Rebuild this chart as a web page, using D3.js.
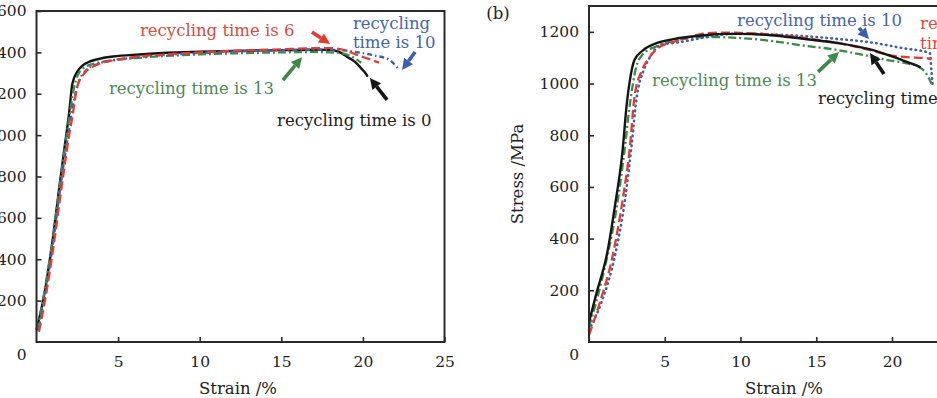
<!DOCTYPE html>
<html>
<head>
<meta charset="utf-8">
<script src="https://cdn.jsdelivr.net/npm/d3@7/dist/d3.min.js"></script>
<style>
  body { margin: 0; background: #fff; }
  svg { display: block; }
  text { font-family: "DejaVu Serif", serif; }
</style>
</head>
<body>
<svg id="chart" width="937" height="398"></svg>
<script>
// recycling times compared in both panels
const recycleTimes = [0, 6, 10, 13];

// panel (a): strain (%) and stress (MPa)
const aStrain0 = [0, 0.5, 1.0, 1.4, 1.7, 2.0, 2.2, 2.5, 2.8, 3.1, 3.8, 4.7, 6.3, 8, 10, 12, 15, 17, 18, 18.6, 19.0, 19.5, 19.8, 20.1, 20.3];
const aStress0 = [58, 240, 500, 750, 930, 1108, 1250, 1307, 1335, 1350, 1368, 1380, 1390, 1398, 1403, 1407, 1411, 1413, 1412, 1400, 1380, 1355, 1331, 1305, 1283];
const aStrain6 = [0.15, 0.6, 1.0, 1.6, 2.0, 2.2, 2.5, 2.95, 3.7, 4.7, 6, 8, 10, 12, 15, 17, 18, 19, 19.6, 20.3, 21.0];
const aStress6 = [50, 237, 440, 784, 1000, 1090, 1235, 1300, 1340, 1362, 1378, 1390, 1400, 1407, 1415, 1420, 1421, 1408, 1389, 1370, 1350];
const aStrain10 = [0.1, 0.6, 1.0, 1.5, 2.0, 2.3, 2.6, 3.0, 3.8, 5, 6, 8, 10, 12, 15, 17, 18, 19, 19.8, 20.7, 21.6, 22.2];
const aStress10 = [55, 260, 470, 770, 1030, 1170, 1260, 1310, 1345, 1365, 1375, 1388, 1397, 1404, 1410, 1413, 1413, 1408, 1399, 1385, 1365, 1317];
const aStrain13 = [0.05, 0.5, 1.0, 1.5, 2.0, 2.3, 2.6, 3.0, 3.5, 4.5, 6, 8, 10, 12, 15, 17, 18.5, 19.3, 19.9];
const aStress13 = [55, 250, 500, 800, 1080, 1230, 1300, 1330, 1345, 1360, 1372, 1383, 1390, 1395, 1400, 1402, 1398, 1380, 1350];

// panel (b)
const bStrain0 = [0, 0.5, 1.2, 1.7, 2.2, 2.5, 2.7, 3.0, 3.6, 4.5, 6.0, 7.8, 9, 10, 12, 14, 16.4, 18.5, 20, 20.7, 21.4, 21.9];
const bStress0 = [77, 190, 344, 522, 731, 925, 1013, 1091, 1130, 1157, 1176, 1188, 1192, 1192, 1187, 1174, 1157, 1133, 1105, 1090, 1075, 1062];
const bStrain6 = [0, 0.7, 1.6, 2.25, 2.7, 3.0, 3.5, 4.0, 4.55, 6.0, 7.3, 8.5, 10, 12, 15, 17, 18.5, 20, 21, 22.3, 22.6];
const bStress6 = [27, 150, 344, 561, 754, 948, 1052, 1102, 1137, 1168, 1190, 1197, 1196, 1190, 1170, 1150, 1130, 1108, 1102, 1098, 1093];
const bStrain10 = [0, 0.8, 1.75, 2.4, 2.8, 3.15, 3.6, 4.0, 4.7, 6, 7.5, 9, 10, 12, 15, 16.5, 18.5, 20.7, 22.5, 22.6, 22.7];
const bStress10 = [46, 150, 344, 560, 754, 948, 1050, 1100, 1149, 1160, 1177, 1190, 1193, 1190, 1180, 1172, 1160, 1137, 1118, 1050, 985];
const bStrain13 = [0, 0.5, 1.2, 1.8, 2.3, 2.7, 3.1, 3.5, 4.5, 6, 8, 10, 12, 14, 16.4, 18, 19.7, 21, 21.8, 22.3, 22.6];
const bStress13 = [58, 160, 330, 510, 720, 920, 1060, 1110, 1145, 1170, 1180, 1176, 1165, 1148, 1130, 1112, 1091, 1078, 1064, 1035, 1000];

const xTicks = [5, 10, 15, 20, 25];
const yTicksA = [200, 400, 600, 800, 1000, 1200, 1400, 1600];
const yTicksB = [200, 400, 600, 800, 1000, 1200];

const lineColor = { 0: "#151515", 6: "#e23b33", 10: "#3b5fae", 13: "#3b8a48" };
const textColor = { 0: "#1d1d1d", 6: "#dc4a40", 10: "#4565aa", 13: "#4b8a56" };

const svg = d3.select("#chart");

function drawArrow(g, x1, y1, x2, y2, color) {
  const a = Math.atan2(y2 - y1, x2 - x1);
  const len = 11, half = 5.5;
  const bx = x2 - len * Math.cos(a), by = y2 - len * Math.sin(a);
  g.append("line")
    .attr("x1", x1).attr("y1", y1).attr("x2", bx).attr("y2", by)
    .attr("stroke", color).attr("stroke-width", 3.6);
  g.append("path")
    .attr("d", `M${x2},${y2}L${bx + half * Math.sin(a)},${by - half * Math.cos(a)}L${bx - half * Math.sin(a)},${by + half * Math.cos(a)}Z`)
    .attr("fill", color);
}

function drawPanel(p) {
  const x = d3.scaleLinear().domain([0, 25]).range([p.left, p.left + 25 * p.kx]);
  const y = d3.scaleLinear().domain([0, p.yMax]).range([p.bottom, p.top]);
  const g = svg.append("g");

  // Add X axis (ticks point inward)
  const gx = g.append("g")
    .attr("transform", "translate(0," + p.bottom + ")")
    .call(d3.axisBottom(x).tickValues(xTicks).tickFormat(d3.format("d"))
      .tickSizeInner(-5).tickSizeOuter(0).tickPadding(14));
  // Add Y axis
  const gy = g.append("g")
    .attr("transform", "translate(" + p.left + ",0)")
    .call(d3.axisLeft(y).tickValues(p.yTicks).tickFormat(d3.format("d"))
      .tickSizeInner(-5).tickSizeOuter(0).tickPadding(10));
  [gx, gy].forEach(a => {
    a.select(".domain").remove();
    a.selectAll("line").attr("stroke", "#2a2a2a").attr("stroke-width", 1.6);
    a.selectAll("text").attr("fill", "#222").style("font-size", "15.5px").style("font-family", "DejaVu Serif");
  });

  // shared zero in the corner
  g.append("text")
    .attr("x", p.left - 10).attr("y", 355)
    .attr("text-anchor", "end").attr("dominant-baseline", "central")
    .attr("fill", "#222").style("font-size", "15.5px")
    .text("0");

  // curves
  const line = d3.line()
    .x(d => x(d[0]))
    .y(d => y(d[1]))
    .curve(d3.curveMonotoneX);
  p.order.forEach(t => {
    const s = p.series[t];
    g.append("path")
      .datum(d3.zip(s[0], s[1]))
      .attr("d", line)
      .attr("fill", "none")
      .attr("stroke", lineColor[t])
      .attr("stroke-width", t === 0 ? 2.4 : (t === 10 && p.dotted ? 2.6 : 2.3))
      .attr("stroke-linecap", t === 10 && p.dotted ? "round" : "butt")
      .attr("stroke-dasharray", p.dash[t]);
  });

  // plot frame
  g.append("rect")
    .attr("x", x(0)).attr("y", p.top)
    .attr("width", x(25) - x(0)).attr("height", p.bottom - p.top)
    .attr("fill", "none").attr("stroke", "#2a2a2a").attr("stroke-width", 2);

  // labels and arrows
  p.notes.forEach(n => {
    const t = g.append("text")
      .attr("x", x(n.x)).attr("y", y(n.y))
      .attr("dominant-baseline", "central")
      .attr("fill", textColor[n.t]).style("font-size", "16.5px");
    n.lines.forEach((l, i) => {
      t.append("tspan").attr("x", x(n.x)).attr("dy", i === 0 ? 0 : n.gap).text(l);
    });
    if (n.arrow) {
      drawArrow(g, x(n.arrow[0]), y(n.arrow[1]), x(n.arrow[2]), y(n.arrow[3]), lineColor[n.t]);
    }
  });

  g.append("text")
    .attr("x", p.titleX).attr("y", 388)
    .attr("text-anchor", "middle").attr("dominant-baseline", "central")
    .attr("fill", "#222").style("font-size", "16.5px")
    .text("Strain /%");

  if (p.yTitle) {
    g.append("text")
      .attr("transform", "translate(" + p.yTitle + "," + (p.top + p.bottom) / 2 + ")rotate(-90)")
      .attr("text-anchor", "middle").attr("dominant-baseline", "central")
      .attr("fill", "#222").style("font-size", "16.5px")
      .text("Stress /MPa");
  }
}

const name = t => "recycling time is " + t;

drawPanel({
  left: 36.5, kx: 16.32, top: 11, bottom: 342, yMax: 1600, yTicks: yTicksA, titleX: 238,
  order: [0, 13, 10, 6],
  series: { 0: [aStrain0, aStress0], 6: [aStrain6, aStress6], 10: [aStrain10, aStress10], 13: [aStrain13, aStress13] },
  dash: { 0: null, 6: "9,4", 10: "5,3,1.5,3", 13: "8,3,2,3" },
  notes: [
    { t: 6, lines: [name(6)], x: 6.34, y: 1508, arrow: [16.88, 1498, 17.99, 1440] },
    { t: 10, lines: ["recycling", "time is 10"], gap: 19, x: 19.39, y: 1542, arrow: [23.2, 1402, 22.4, 1315] },
    { t: 13, lines: [name(13)], x: 4.44, y: 1228, arrow: [15.1, 1266, 16.27, 1377] },
    { t: 0, lines: [name(0)], x: 14.74, y: 1073, arrow: [21.48, 1170, 20.43, 1276] }
  ]
});

drawPanel({
  left: 589, kx: 15.15, top: 6, bottom: 342, yMax: 1300, yTicks: yTicksB, titleX: 784, yTitle: 517, dotted: true,
  order: [13, 10, 6, 0],
  series: { 0: [bStrain0, bStress0], 6: [bStrain6, bStress6], 10: [bStrain10, bStress10], 13: [bStrain13, bStress13] },
  dash: { 0: null, 6: "9,4", 10: "0.5,4.5", 13: "8,3,2,3" },
  notes: [
    { t: 10, lines: [name(10)], x: 9.77, y: 1246, arrow: [17.82, 1215, 18.48, 1172] },
    { t: 6, lines: ["recycling", "time is 6"], gap: 20, x: 21.85, y: 1234 },
    { t: 13, lines: [name(13)], x: 4.16, y: 1014, arrow: [15.12, 1045, 16.5, 1122] },
    { t: 0, lines: [name(0)], x: 15.12, y: 944, arrow: [19.47, 1037, 18.55, 1118] }
  ]
});

svg.append("text")
  .attr("x", 498).attr("y", 13)
  .attr("text-anchor", "middle").attr("dominant-baseline", "central")
  .attr("fill", "#222").style("font-size", "16.5px")
  .text("(b)");
</script>
</body>
</html>
